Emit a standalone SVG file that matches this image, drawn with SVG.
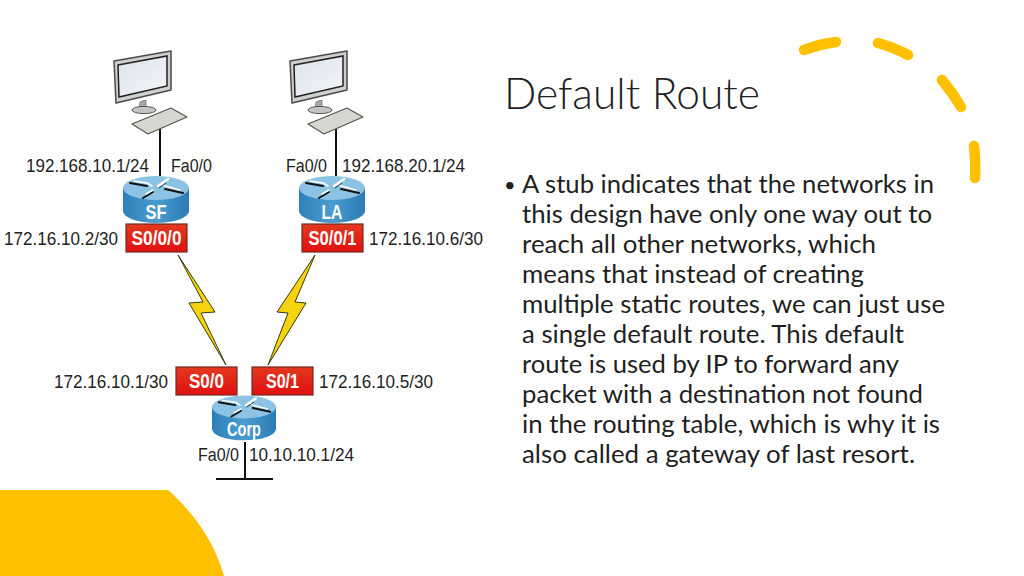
<svg xmlns="http://www.w3.org/2000/svg" xmlns:xlink="http://www.w3.org/1999/xlink" width="1024" height="576" viewBox="0 0 1024 576">
<style>
.lbl{font-family:"Liberation Sans",Arial,sans-serif;font-size:18.500px;fill:#222}
.port{font-family:"Liberation Sans",Arial,sans-serif;font-size:20px;font-weight:bold;fill:#fff;text-anchor:middle}
.rname{font-family:"Liberation Sans",Arial,sans-serif;font-size:20px;font-weight:bold;fill:#fff;text-anchor:middle}
.body{font-family:Lato,"Open Sans",sans-serif;font-size:25px;fill:#1f1f1f}
.title{font-family:Lato,"Open Sans",sans-serif;font-weight:300;font-size:44px;fill:#1f1f1f}
.pbox{fill:url(#red);stroke:#6e2a20;stroke-width:1.200}
.wire{fill:none;stroke:#111;stroke-width:2}
.bolt{fill:#f5d40f;stroke:#3a3a10;stroke-width:1}
.deco{fill:none;stroke:#FFC000;stroke-width:10.500;stroke-linecap:round}
</style>
<defs>
<linearGradient id="red" x1="0" y1="0" x2="0" y2="1"><stop offset="0" stop-color="#e3391f"/><stop offset="1" stop-color="#e01010"/></linearGradient>
<linearGradient id="side" x1="0" y1="0" x2="1" y2="0"><stop offset="0" stop-color="#2d80b8"/><stop offset=".5" stop-color="#4a9cd0"/><stop offset="1" stop-color="#2a7cb4"/></linearGradient>
<linearGradient id="scr" x1="0" y1="0" x2="1" y2="1"><stop offset="0" stop-color="#dde3ec"/><stop offset="1" stop-color="#f4f6f9"/></linearGradient>
<g id="pc">
<path d="M114 61 L171 51 L171 90 L116 103 Z" fill="#cfcfcf" stroke="#4a4a4a" stroke-width="1.500" stroke-linejoin="round"/>
<path d="M118 65 L167 56 L167 86 L119 97 Z" fill="url(#scr)" stroke="#222" stroke-width="1.500"/>
<path d="M140 102 L146 100 L146 107 L149 109 L139 109 Z" fill="#aaa" stroke="#666" stroke-width=".7"/>
<ellipse cx="144" cy="110" rx="12" ry="3.600" fill="#c4c4c4" stroke="#555" stroke-width="1"/>
<path d="M132 124 L171 108 L187 117 L148 134 Z" fill="#d8d6d0" stroke="#555" stroke-width="1.200" stroke-linejoin="round"/>
</g>
<g id="arrows" fill="none" stroke-linecap="round">
<path d="M-26 -5 L-9 -2" stroke="#111" stroke-width="2"/><path d="M-22 -7 L-9 -5 L-4 -2" stroke="#fff" stroke-width="1.500"/>
<path d="M27 5 L9 1" stroke="#111" stroke-width="2"/><path d="M24 2 L9 -2 L6 -4" stroke="#fff" stroke-width="1.500"/>
<path d="M-13 10 L-3 4" stroke="#111" stroke-width="2"/><path d="M-10 6 L-3 2" stroke="#fff" stroke-width="1.500"/>
<path d="M2 -2 L12 -9" stroke="#fff" stroke-width="2.500"/><path d="M3 0 L10 -5" stroke="#234" stroke-width="1"/>
</g>
<g id="router">
<path d="M-33 0 L-33 23 A33 12 0 0 0 33 23 L33 0 Z" fill="url(#side)"/>
<ellipse cx="0" cy="0" rx="33" ry="12" fill="#8cc2e4"/>
<use xlink:href="#arrows" href="#arrows"/>
</g>
</defs>
<rect width="1024" height="576" fill="#fff"/>
<path id="blob" d="M0 490 L168 490 C196 515 215 544 224 576 L0 576 Z" fill="#FFC000"/>
<g id="decor">
<path class="deco" d="M804 50 Q820 44 836 42"/>
<path class="deco" d="M878 43 Q893 47 908 55"/>
<path class="deco" d="M942 80 Q953 93 961 107"/>
<path class="deco" d="M974 146 Q976 163 975 178"/>
</g>
<g id="connectors">
<path class="wire" d="M160 129 V176"/>
<path class="wire" d="M336 129 V176"/>
<path class="wire" d="M245 442 V479 M216 479 H273"/>
<path class="bolt" d="M178 255 L215 312 L201 313 L226 365 L189 303 L203 302 Z"/>
<path class="bolt" d="M315 255 L295 302 L306 303 L268 365 L288 313 L277 312 Z"/>
</g>
<g id="pc-sf"><use xlink:href="#pc" href="#pc"/></g>
<g id="pc-la"><use xlink:href="#pc" href="#pc" transform="translate(176 0)"/></g>
<g id="router-sf"><use xlink:href="#router" href="#router" transform="translate(156 188)"/><text class="rname" x="156" y="219" textLength="21" lengthAdjust="spacingAndGlyphs">SF</text></g>
<g id="router-la"><use xlink:href="#router" href="#router" transform="translate(332 188)"/><text class="rname" x="332" y="219" textLength="21" lengthAdjust="spacingAndGlyphs">LA</text></g>
<g id="router-corp"><use xlink:href="#router" href="#router" transform="translate(244 407) scale(.97 .95)"/><text class="rname" x="244" y="436" textLength="34" lengthAdjust="spacingAndGlyphs">Corp</text></g>
<g id="port-s000"><rect class="pbox" x="126" y="224" width="61" height="28"/><text class="port" x="156.500" y="245" textLength="50" lengthAdjust="spacingAndGlyphs">S0/0/0</text></g>
<g id="port-s001"><rect class="pbox" x="302" y="224" width="61" height="28"/><text class="port" x="332.500" y="245" textLength="48" lengthAdjust="spacingAndGlyphs">S0/0/1</text></g>
<g id="port-s00"><rect class="pbox" x="176" y="367" width="61" height="28"/><text class="port" x="206.500" y="388" textLength="35" lengthAdjust="spacingAndGlyphs">S0/0</text></g>
<g id="port-s01"><rect class="pbox" x="252" y="367" width="61" height="28"/><text class="port" x="282.500" y="388" textLength="33" lengthAdjust="spacingAndGlyphs">S0/1</text></g>
<g id="labels">
<text class="lbl" x="26" y="172" textLength="123" lengthAdjust="spacingAndGlyphs">192.168.10.1/24</text>
<text class="lbl" x="171" y="172" textLength="41" lengthAdjust="spacingAndGlyphs">Fa0/0</text>
<text class="lbl" x="4" y="245" textLength="114" lengthAdjust="spacingAndGlyphs">172.16.10.2/30</text>
<text class="lbl" x="286" y="172" textLength="41" lengthAdjust="spacingAndGlyphs">Fa0/0</text>
<text class="lbl" x="342" y="172" textLength="123" lengthAdjust="spacingAndGlyphs">192.168.20.1/24</text>
<text class="lbl" x="369" y="245" textLength="114" lengthAdjust="spacingAndGlyphs">172.16.10.6/30</text>
<text class="lbl" x="54" y="388" textLength="114" lengthAdjust="spacingAndGlyphs">172.16.10.1/30</text>
<text class="lbl" x="319" y="388" textLength="114" lengthAdjust="spacingAndGlyphs">172.16.10.5/30</text>
<text class="lbl" x="198" y="461" textLength="41" lengthAdjust="spacingAndGlyphs">Fa0/0</text>
<text class="lbl" x="249" y="461" textLength="105" lengthAdjust="spacingAndGlyphs">10.10.10.1/24</text>
</g>
<text class="title" x="504" y="109" textLength="256" lengthAdjust="spacingAndGlyphs">Default Route</text>
<g id="body">
<text class="body" x="504" y="192" style="font-size:20px">•</text>
<text class="body" x="522" y="193" textLength="412" lengthAdjust="spacingAndGlyphs">A stub indicates that the networks in</text>
<text class="body" x="522" y="223" textLength="410" lengthAdjust="spacingAndGlyphs">this design have only one way out to</text>
<text class="body" x="522" y="253" textLength="354" lengthAdjust="spacingAndGlyphs">reach all other networks, which</text>
<text class="body" x="522" y="283" textLength="342" lengthAdjust="spacingAndGlyphs">means that instead of creating</text>
<text class="body" x="522" y="313" textLength="423" lengthAdjust="spacingAndGlyphs">multiple static routes, we can just use</text>
<text class="body" x="522" y="343" textLength="382" lengthAdjust="spacingAndGlyphs">a single default route. This default</text>
<text class="body" x="522" y="373" textLength="377" lengthAdjust="spacingAndGlyphs">route is used by IP to forward any</text>
<text class="body" x="522" y="403" textLength="401" lengthAdjust="spacingAndGlyphs">packet with a destination not found</text>
<text class="body" x="522" y="433" textLength="418" lengthAdjust="spacingAndGlyphs">in the routing table, which is why it is</text>
<text class="body" x="522" y="463" textLength="393" lengthAdjust="spacingAndGlyphs">also called a gateway of last resort.</text>
</g>
</svg>
